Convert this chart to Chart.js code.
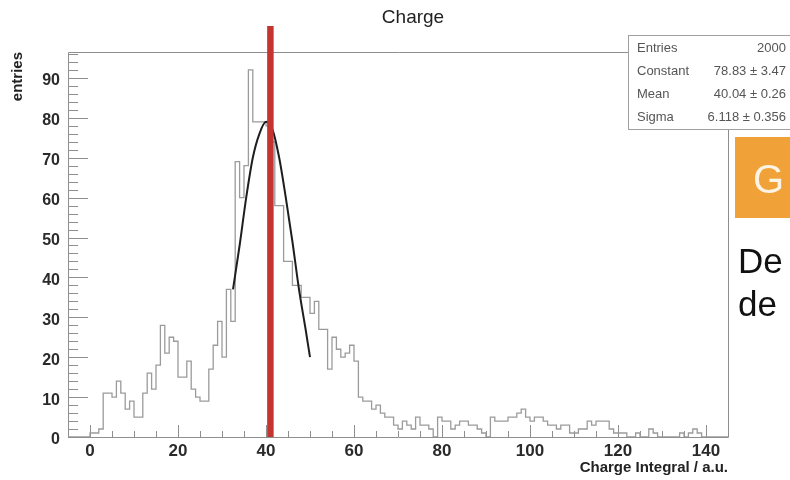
<!DOCTYPE html>
<html>
<head>
<meta charset="utf-8">
<script src="https://cdn.jsdelivr.net/npm/chart.js@4.4.0/dist/chart.umd.min.js"></script>
<style>
  html, body { margin: 0; padding: 0; background: #fff; }
</style>
</head>
<body>
<canvas id="charge" width="790" height="480"></canvas>
<script>
// histogram "Charge": 1 a.u. bins from -5 to 145
const binLow = -5;
const binWidth = 1;
const counts = [
  0, 0, 0, 0, 0,
  0, 1, 1, 2, 11, 11, 10, 14, 11, 7, 9, 5, 5, 11, 16, 12, 18, 28, 21, 25,
  24, 15, 15, 19, 12, 10, 9, 9, 17, 23, 29, 20,
  37, 29, 69, 60, 68, 92, 79, 79, 79, 78, 74, 58, 58, 44, 44,
  38, 38, 35, 35, 31, 34, 27, 27, 17, 25, 22, 20, 21, 23, 19, 10, 9, 9, 7, 8,
  6, 5, 5, 3, 2, 4, 3, 2, 5, 3, 3, 2, 0,
  5, 4, 4, 2, 3, 4, 4, 3, 3, 2, 1, 0, 5, 4, 4, 4, 5, 5, 6, 7,
  5, 4, 5, 5, 4, 3, 3, 2, 3, 3, 1, 1, 2, 2, 4, 3, 4, 4, 4, 2,
  1, 1, 1, 0, 0, 1, 0, 0, 2, 1, 0, 0, 0, 0, 0, 1, 0, 1, 2, 1, 0, 0, 0, 0, 0
];

// gaussian fit curve
const fitX = [32.5, 34, 35.5, 37, 38.5, 40, 41.5, 43, 44.5, 46, 47.5, 49, 50];
const fitY = [37, 48, 60, 70, 76, 79, 77, 70, 60, 49, 37, 27, 20];

// red marker line
const markerX = 41;
const markerTop = 103;

// stats box
const statLabels = ['Entries', 'Constant', 'Mean', 'Sigma'];
const statValues = ['2000', '78.83 \u00b1 3.47', '40.04 \u00b1 0.26', '6.118 \u00b1 0.356'];

const FONT = '"Liberation Sans", Arial, Helvetica, sans-serif';

// histogram outline: one point per bin low edge, stepped
const histPoints = counts.map((c, i) => ({ x: binLow + i * binWidth, y: c }));
histPoints.push({ x: binLow + counts.length * binWidth, y: counts[counts.length - 1] });

const fitPoints = fitX.map((v, i) => ({ x: v, y: fitY[i] }));

// ROOT-like frame, inward ticks and the texts around the pad
const rootStyle = {
  id: 'rootStyle',
  beforeDatasetsDraw(chart) {
    const { ctx, chartArea: a, scales: { x, y } } = chart;
    ctx.save();
    ctx.strokeStyle = '#8e8e8e';
    ctx.lineWidth = 1;
    ctx.beginPath();
    ctx.rect(a.left + 0.5, a.top + 0.5, a.right - a.left, a.bottom - a.top);
    for (let v = 0; v <= y.max; v += 2) {
      const py = Math.round(y.getPixelForValue(v)) + 0.5;
      const len = v % 10 === 0 ? 20 : 10;
      ctx.moveTo(a.left, py);
      ctx.lineTo(a.left + len, py);
    }
    for (let v = 0; v <= x.max; v += 5) {
      const px = Math.round(x.getPixelForValue(v)) + 0.5;
      const len = v % 20 === 0 ? 12 : 6;
      ctx.moveTo(px, a.bottom);
      ctx.lineTo(px, a.bottom - len);
    }
    ctx.stroke();
    ctx.restore();
  },
  afterDraw(chart) {
    const { ctx, chartArea: a } = chart;
    ctx.save();

    // title
    ctx.fillStyle = '#222';
    ctx.font = '19px ' + FONT;
    ctx.textAlign = 'center';
    ctx.textBaseline = 'middle';
    ctx.fillText('Charge', 413, 18);

    // axis titles
    ctx.font = 'bold 15px ' + FONT;
    ctx.textAlign = 'right';
    ctx.textBaseline = 'alphabetic';
    ctx.fillText('Charge Integral / a.u.', a.right, 472);
    ctx.save();
    ctx.translate(22, a.top);
    ctx.rotate(-Math.PI / 2);
    ctx.fillText('entries', 0, 0);
    ctx.restore();

    // stats box
    ctx.fillStyle = '#fff';
    ctx.fillRect(628, 35, 170, 94);
    ctx.strokeStyle = '#a0a0a0';
    ctx.lineWidth = 1;
    ctx.strokeRect(628.5, 35.5, 170, 94);
    ctx.font = '13px ' + FONT;
    ctx.fillStyle = '#555';
    ctx.textBaseline = 'middle';
    statLabels.forEach((t, i) => {
      const ty = 48 + i * 23.3;
      ctx.textAlign = 'left';
      ctx.fillText(t, 637, ty);
      ctx.textAlign = 'right';
      ctx.fillText(statValues[i], 786, ty);
    });

    // cut-off slide elements on the right
    ctx.fillStyle = '#f0a238';
    ctx.fillRect(735, 137, 60, 81);
    ctx.fillStyle = '#fdf3e4';
    ctx.font = '40px ' + FONT;
    ctx.textAlign = 'left';
    ctx.textBaseline = 'alphabetic';
    ctx.fillText('G', 753, 193);
    ctx.fillStyle = '#111';
    ctx.font = '35px ' + FONT;
    ctx.fillText('De', 738, 273);
    ctx.fillText('de', 738, 316);

    ctx.restore();
  }
};

const tickFont = { family: FONT, size: 16, weight: 'bold' };

new Chart(document.getElementById('charge'), {
  type: 'line',
  data: {
    datasets: [
      {
        label: 'marker',
        data: [{ x: markerX, y: 0 }, { x: markerX, y: markerTop }],
        borderColor: '#c4352f',
        borderWidth: 6.5,
        borderCapStyle: 'butt',
        pointRadius: 0,
        clip: false,
        order: 0
      },
      {
        label: 'fit',
        data: fitPoints,
        borderColor: '#1e1e1e',
        borderWidth: 2,
        cubicInterpolationMode: 'monotone',
        pointRadius: 0,
        order: 1
      },
      {
        label: 'Charge',
        data: histPoints,
        stepped: 'after',
        borderColor: '#9b9b9b',
        borderWidth: 1.3,
        pointRadius: 0,
        order: 2
      }
    ]
  },
  options: {
    responsive: false,
    animation: false,
    layout: { padding: { left: 0, top: 52, right: 62, bottom: 0 } },
    plugins: { legend: { display: false }, tooltip: { enabled: false }, title: { display: false } },
    scales: {
      x: {
        type: 'linear',
        min: -5,
        max: 145,
        grid: { display: false, drawTicks: false },
        border: { display: false },
        ticks: {
          stepSize: 20,
          includeBounds: false,
          autoSkip: false,
          maxRotation: 0,
          padding: 4,
          color: '#2a2a2a',
          font: { family: FONT, size: 17, weight: 'bold' }
        },
        afterFit: s => { s.height = 43; }
      },
      y: {
        min: 0,
        max: 96.5,
        grid: { display: false, drawTicks: false },
        border: { display: false },
        ticks: {
          stepSize: 10,
          includeBounds: false,
          padding: 8,
          labelOffset: 3,
          color: '#2a2a2a',
          font: tickFont
        },
        afterFit: s => { s.width = 68; }
      }
    }
  },
  plugins: [rootStyle]
});
</script>
</body>
</html>
